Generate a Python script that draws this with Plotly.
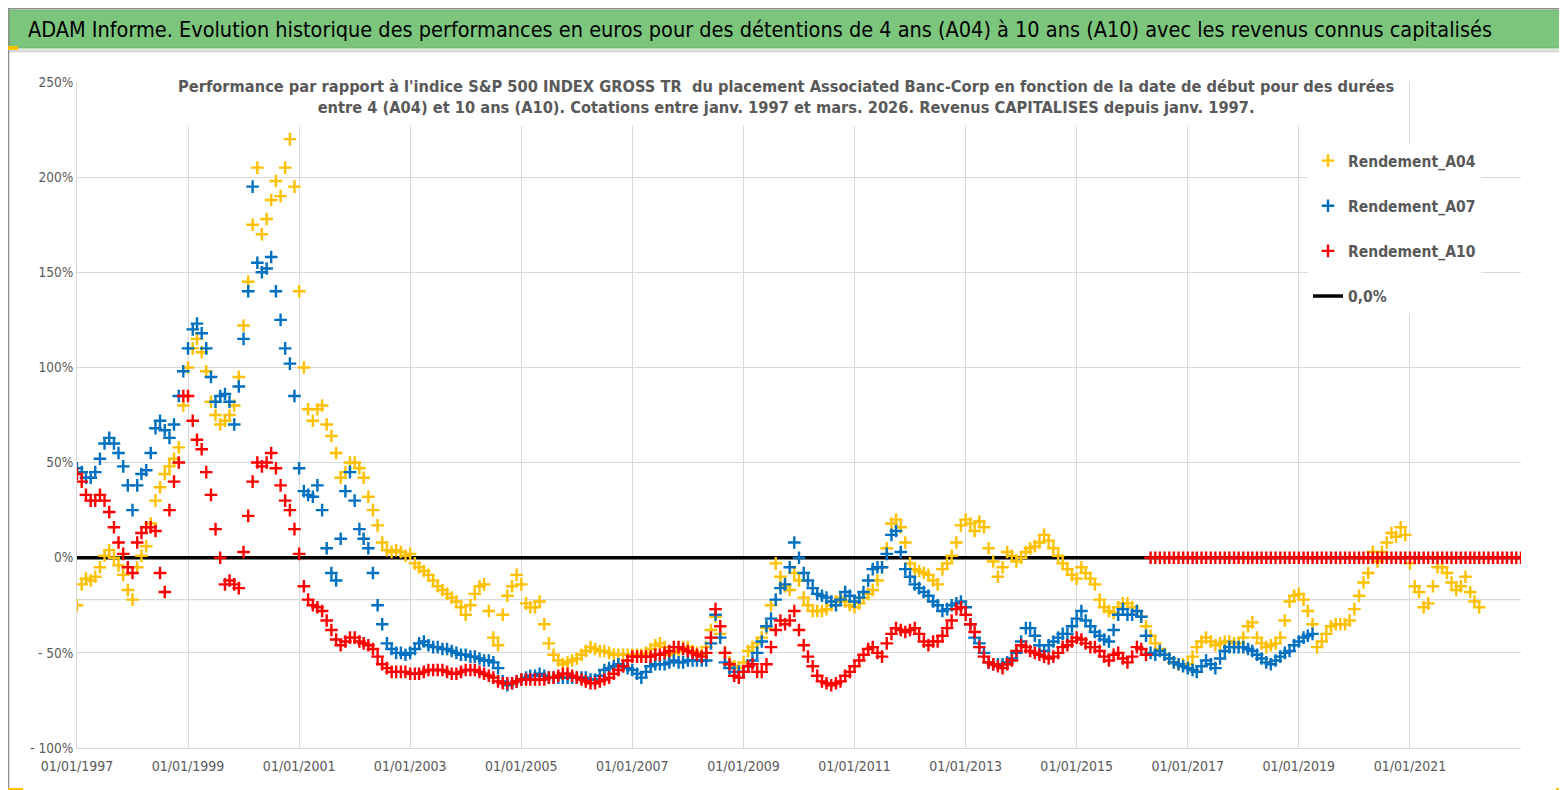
import pandas as pd
import plotly.graph_objects as go

# Valeurs (une valeur par mois, en %)
debut = "1997-01-01"

rendement_a04 = [
    -25, -14, -11, -12, -10, -5, 1, 4, 0, -4, -9, -17,           # 1997
    -22, -5, 1, 6, 18, 30, 37, 44, 48, 52, 58, 80,               # 1998
    100, 110, 115, 108, 98, 82, 75, 70, 72, 75, 80, 95,          # 1999
    122, 145, 175, 205, 170, 178, 188, 198, 190, 205, 220, 195,  # 2000
    140, 100, 78, 72, 78, 80, 70, 64, 55, 42, 45, 50,            # 2001
    50, 47, 42, 32, 25, 17, 8, 4, 3, 4, 3, 1,                    # 2002
    2, -3, -5, -7, -9, -12, -15, -17, -19, -21, -23, -26,        # 2003
    -30, -25, -19, -15, -14, -28, -42, -46, -30, -20, -15, -9,   # 2004
    -14, -24, -26, -26, -23, -35, -45, -51, -54, -56, -55, -54,  # 2005
    -53, -51, -49, -47, -48, -49, -49, -50, -51, -51, -51, -51,  # 2006
    -51, -51, -51, -50, -48, -46, -45, -47, -51, -50, -49, -47,  # 2007
    -47, -49, -50, -51, -47, -38, -31, -40, -50, -55, -57, -58,  # 2008
    -55, -49, -47, -45, -42, -37, -25, -3, -10, -15, -17, -8,    # 2009
    -12, -21, -25, -28, -28, -28, -27, -25, -23, -21, -23, -25,  # 2010
    -26, -24, -21, -19, -17, -12, -5, 5, 18, 20, 16, 8,          # 2011
    -3, -6, -7, -8, -9, -12, -14, -6, -3, 1, 8, 17,              # 2012
    20, 18, 14, 19, 16, 5, -2, -10, -5, 3, 1, -2,                # 2013
    0, 3, 5, 6, 8, 12, 9, 5, 1, -3, -6, -9,                      # 2014
    -11, -5, -8, -11, -14, -22, -26, -28, -29, -26, -24, -24,    # 2015
    -26, -28, -31, -36, -41, -45, -48, -51, -53, -55, -56, -56,  # 2016
    -56, -52, -47, -44, -42, -44, -46, -45, -44, -44, -45, -45,  # 2017
    -42, -36, -34, -42, -45, -47, -46, -45, -42, -33, -23, -20,  # 2018
    -19, -22, -28, -35, -47, -44, -40, -36, -35, -35, -35, -33,  # 2019
    -27, -20, -13, -8, 3, -2, 3, 8, 13, 11, 16, 12,              # 2020
    -3, -15, -18, -26, -24, -15, -5, -5, -8, -13, -17, -15,      # 2021
    -10, -18, -23, -26,                                          # 2022
]

rendement_a07 = [
    47, 45, 42, 42, 45, 52, 60, 63, 60, 55, 48, 38,              # 1997
    25, 38, 44, 46, 55, 68, 72, 67, 63, 70, 85, 98,              # 1998
    110, 120, 123, 118, 110, 95, 82, 85, 86, 82, 70, 90,         # 1999
    115, 140, 195, 155, 150, 152, 158, 140, 125, 110, 102, 85,   # 2000
    47, 35, 33, 32, 38, 25, 5, -8, -12, 10, 35, 45,              # 2001
    30, 15, 10, 5, -8, -25, -35, -45, -48, -50, -50, -51,        # 2002
    -50, -48, -45, -44, -46, -47, -47, -48, -48, -49, -50, -51,  # 2003
    -51, -52, -52, -53, -54, -54, -55, -58, -65, -67, -66, -65,  # 2004
    -64, -63, -62, -62, -61, -62, -63, -63, -63, -63, -63, -63,  # 2005
    -63, -63, -63, -64, -64, -62, -59, -58, -57, -56, -57, -58,  # 2006
    -59, -61, -63, -60, -57, -56, -56, -56, -55, -54, -55, -55,  # 2007
    -54, -54, -54, -54, -54, -45, -30, -42, -55, -58, -60, -60,  # 2008
    -60, -57, -54, -50, -44, -36, -32, -22, -16, -14, -5, 8,     # 2009
    0, -8, -12, -16, -19, -20, -21, -23, -25, -22, -18, -20,     # 2010
    -23, -21, -18, -12, -6, -5, -5, 2, 12, 14, 3, -6,            # 2011
    -10, -14, -16, -18, -20, -23, -25, -28, -27, -25, -24, -23,  # 2012
    -26, -35, -42, -45, -50, -55, -56, -56, -56, -55, -53, -50,  # 2013
    -44, -37, -37, -41, -46, -49, -46, -44, -42, -40, -40, -36,  # 2014
    -32, -28, -33, -36, -39, -41, -43, -44, -38, -30, -27, -30,  # 2015
    -30, -28, -31, -41, -50, -51, -49, -51, -53, -55, -56, -57,  # 2016
    -58, -59, -60, -57, -54, -56, -58, -53, -49, -47, -47, -47,  # 2017
    -47, -48, -49, -51, -53, -55, -56, -54, -52, -50, -49, -46,  # 2018
    -44, -42, -41, -40,                                          # 2019
]

rendement_a10 = [
    44, 40, 33, 30, 30, 33, 30, 24, 16, 8, 2, -5,                # 1997
    -8, 8, 13, 16, 16, 14, -8, -18, 25, 40, 50, 85,              # 1998
    85, 72, 62, 57, 45, 33, 15, 0, -14, -12, -14, -16,           # 1999
    3, 22, 40, 50, 48, 50, 55, 47, 38, 30, 25, 15,               # 2000
    2, -15, -22, -25, -26, -28, -33, -38, -43, -46, -44, -42,    # 2001
    -42, -44, -45, -46, -48, -52, -56, -58, -60, -60, -60, -60,  # 2002
    -61, -61, -61, -60, -59, -59, -59, -59, -60, -61, -61, -60,  # 2003
    -59, -59, -59, -60, -61, -62, -63, -65, -66, -66, -66, -65,  # 2004
    -64, -64, -64, -64, -64, -64, -63, -63, -62, -61, -61, -62,  # 2005
    -63, -64, -65, -66, -66, -65, -64, -63, -61, -59, -57, -54,  # 2006
    -52, -52, -52, -52, -52, -51, -51, -50, -49, -47, -47, -48,  # 2007
    -49, -50, -51, -52, -50, -42, -27, -36, -50, -56, -62, -63,  # 2008
    -60, -57, -56, -60, -60, -56, -47, -38, -33, -35, -33, -28,  # 2009
    -38, -46, -52, -57, -62, -65, -66, -67, -66, -65, -62, -60,  # 2010
    -57, -54, -51, -48, -47, -50, -52, -45, -40, -37, -38, -39,  # 2011
    -38, -37, -40, -44, -46, -44, -44, -41, -37, -33, -27, -26,  # 2012
    -30, -35, -39, -47, -52, -55, -56, -57, -58, -56, -54, -49,  # 2013
    -46, -47, -49, -50, -51, -52, -53, -52, -50, -47, -46, -44,  # 2014
    -42, -43, -45, -47, -47, -49, -52, -54, -51, -50, -53, -55,  # 2015
    -52, -47, -48, -51,                                          # 2016
] + [0.0] * 81  # valeurs à 0 de mai 2016 à janv. 2023

ligne_zero_dates = ["1997-01-01", "2023-01-01"]
ligne_zero = [0, 0]

y_ticks = [-100, -50, 0, 50, 100, 150, 200, 250]
y_labels = ["- 100%", "- 50%", "0%", "50%", "100%", "150%", "200%", "250%"]
x_ticks = [f"{a}-01-01" for a in range(1997, 2023, 2)]
x_labels = [f"01/01/{a}" for a in range(1997, 2023, 2)]

titre = ("ADAM Informe. Evolution historique des performances en euros pour des "
         "détentions de 4 ans (A04) à 10 ans (A10) avec les revenus connus capitalisés")
sous_titre = ("Performance par rapport à l'indice S&P 500 INDEX GROSS TR  du placement "
              "Associated Banc-Corp en fonction de la date de début pour des durées<br>"
              "entre 4 (A04) et 10 ans (A10). Cotations entre janv. 1997 et mars. 2026. "
              "Revenus CAPITALISES depuis janv. 1997.")

POLICE = "Liberation Sans Narrow, Arial Narrow, DejaVu Sans Condensed, sans-serif"
GRIS = "#595959"

# zone de tracé en pixels : x 69 -> 1513, y 74 -> 740
L, R, T, B = 69, 1513, 74, 740
W, H = 1567, 790


def px_x(p):
    return (p - L) / (R - L)


def px_y(p):
    return (B - p) / (B - T)


fig = go.Figure()

fig.add_trace(go.Scatter(
    x=ligne_zero_dates, y=ligne_zero, mode="lines", name="0,0%",
    line=dict(color="black", width=3.5), legendrank=4,
    legendgroup="z",
))

series = [
    ("Rendement_A04", rendement_a04, "#FFC000"),
    ("Rendement_A07", rendement_a07, "#0070C0"),
    ("Rendement_A10", rendement_a10, "#FF0000"),
]
for i, (nom, valeurs, couleur) in enumerate(series):
    dates = pd.date_range(debut, periods=len(valeurs), freq="MS")
    fig.add_trace(go.Scatter(
        x=dates, y=valeurs, mode="markers", name=nom,
        marker=dict(symbol="cross-thin", size=9, color=couleur,
                    line=dict(color=couleur, width=2.4)),
        legendrank=i + 1, legendgroup=nom,
    ))

shapes = [
    # bandeau vert du titre
    dict(type="rect", xref="paper", yref="paper",
         x0=px_x(1), x1=px_x(W - 2), y0=px_y(2), y1=px_y(40),
         fillcolor="#7CC57D", line=dict(color="#6DB56E", width=1), layer="below"),
    dict(type="line", xref="paper", yref="paper",
         x0=px_x(0), x1=px_x(W), y0=px_y(43), y1=px_y(43),
         line=dict(color="#D9D9D9", width=3)),
    # cadre
    dict(type="rect", xref="paper", yref="paper",
         x0=px_x(0.5), x1=px_x(W - 1), y0=px_y(0.5), y1=px_y(H - 1),
         line=dict(color="#8C8C8C", width=1.5)),
    # poignées dorées
    dict(type="rect", xref="paper", yref="paper",
         x0=px_x(0), x1=px_x(10), y0=px_y(38), y1=px_y(42),
         fillcolor="#FFC000", line=dict(width=0)),
    dict(type="rect", xref="paper", yref="paper",
         x0=px_x(1555), x1=px_x(1562), y0=px_y(40), y1=px_y(52),
         fillcolor="#FFC000", line=dict(width=0)),
    dict(type="rect", xref="paper", yref="paper",
         x0=px_x(0), x1=px_x(15), y0=px_y(780), y1=px_y(784),
         fillcolor="#FFC000", line=dict(width=0)),
    dict(type="rect", xref="paper", yref="paper",
         x0=px_x(1557), x1=px_x(1562), y0=px_y(740), y1=px_y(785),
         fillcolor="#FFC000", line=dict(width=0)),
    dict(type="rect", xref="paper", yref="paper",
         x0=px_x(1548), x1=px_x(1562), y0=px_y(780), y1=px_y(785),
         fillcolor="#FFC000", line=dict(width=0)),
    # ligne de quadrillage supplémentaire
    dict(type="line", xref="x", yref="y",
         x0="1997-01-01", x1="2023-01-01", y0=-22, y1=-22,
         line=dict(color="#D9D9D9", width=1.2), layer="between"),
]

annotations = [
    dict(text=titre, xref="paper", yref="paper", x=px_x(18), y=px_y(21),
         xanchor="left", yanchor="middle", showarrow=False,
         font=dict(family=POLICE, size=21.5, color="black")),
    dict(text=sous_titre, xref="paper", yref="paper", x=px_x(778), y=px_y(89),
         xanchor="center", yanchor="middle", showarrow=False, align="center",
         bgcolor="white", borderpad=8,
         font=dict(family=POLICE, size=16.3, color=GRIS, weight="bold")),
]

fig.update_layout(
    width=W, height=H,
    margin=dict(l=L, r=W - R, t=T, b=H - B),
    paper_bgcolor="white", plot_bgcolor="white",
    font=dict(family=POLICE, color=GRIS),
    shapes=shapes, annotations=annotations,
    showlegend=True,
    legend=dict(
        x=px_x(1300), y=px_y(136), xanchor="left", yanchor="top",
        bgcolor="white", borderwidth=0, tracegroupgap=22,
        font=dict(family=POLICE, size=15.5, color=GRIS, weight="bold"),
        traceorder="grouped",
    ),
    xaxis=dict(
        type="date", range=["1997-01-01", "2023-01-01"],
        tickvals=x_ticks, ticktext=x_labels,
        showgrid=True, gridcolor="#D9D9D9", gridwidth=1.2,
        showline=True, linecolor="#D9D9D9", linewidth=1.2,
        zeroline=False, ticks="", ticklabelstandoff=5,
        tickfont=dict(family=POLICE, size=14, color=GRIS),
    ),
    yaxis=dict(
        range=[-100, 250], tickvals=y_ticks, ticktext=y_labels,
        showgrid=True, gridcolor="#D9D9D9", gridwidth=1.2,
        showline=True, linecolor="#D9D9D9", linewidth=1.2,
        zeroline=False, ticks="",
        tickfont=dict(family=POLICE, size=13.5, color=GRIS),
    ),
)

fig.write_html("out.html")
